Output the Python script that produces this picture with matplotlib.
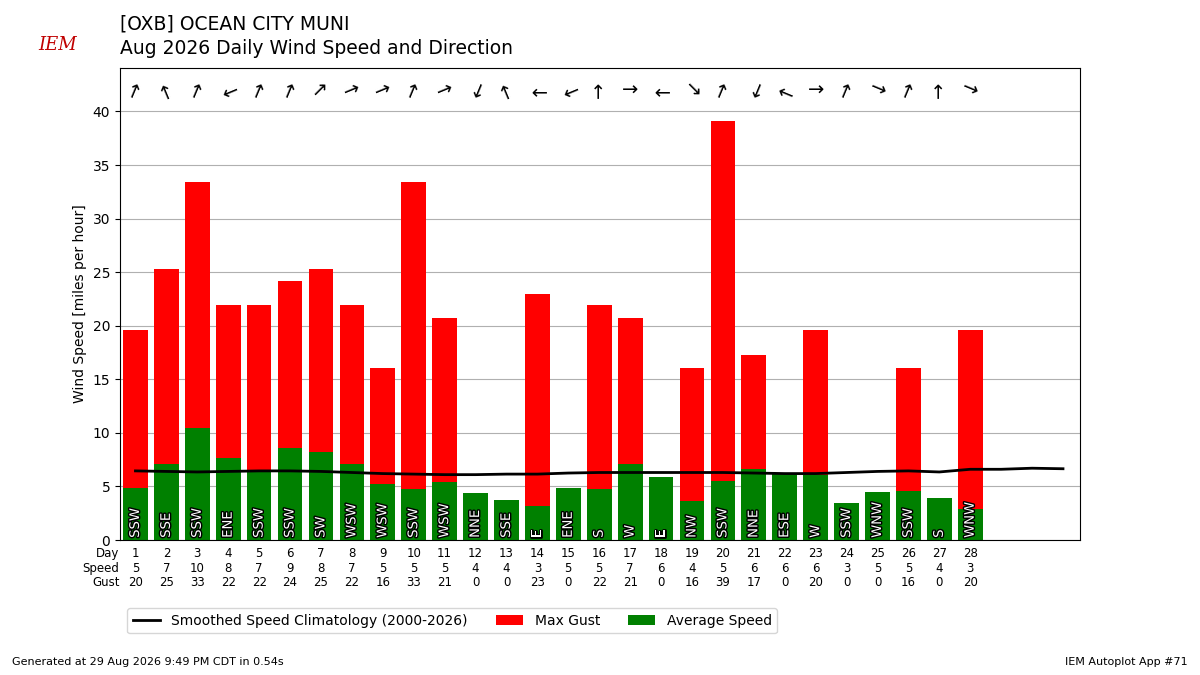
import matplotlib
matplotlib.use("Agg")
import matplotlib.pyplot as plt
import matplotlib.patheffects as pe
import numpy as np

days = list(range(1, 29))
avg = [4.9, 7.1, 10.5, 7.7, 6.4, 8.6, 8.2, 7.1, 5.2, 4.8, 5.4, 4.4, 3.7, 3.2, 4.9, 4.8, 7.1, 5.9, 3.6, 5.5, 6.6, 6.3, 6.1, 3.5, 4.5, 4.6, 3.9, 2.9]
gust = [19.6, 25.3, 33.4, 21.9, 21.9, 24.2, 25.3, 21.9, 16.1, 33.4, 20.7, 0, 0, 23.0, 0, 21.9, 20.7, 0, 16.1, 39.1, 17.3, 0, 19.6, 0, 0, 16.1, 0, 19.6]
spd_lbl = [5, 7, 10, 8, 7, 9, 8, 7, 5, 5, 5, 4, 4, 3, 5, 5, 7, 6, 4, 5, 6, 6, 6, 3, 5, 5, 4, 3]
gust_lbl = [20, 25, 33, 22, 22, 24, 25, 22, 16, 33, 21, 0, 0, 23, 0, 22, 21, 0, 16, 39, 17, 0, 20, 0, 0, 16, 0, 20]
dirs = ["SSW", "SSE", "SSW", "ENE", "SSW", "SSW", "SW", "WSW", "WSW", "SSW", "WSW", "NNE", "SSE", "E", "ENE", "S", "W", "E", "NW", "SSW", "NNE", "ESE", "W", "SSW", "WNW", "SSW", "S", "WNW"]
clim_days = list(range(1, 32))
clim = [6.45, 6.4, 6.35, 6.4, 6.45, 6.45, 6.4, 6.3, 6.2, 6.15, 6.1, 6.1, 6.15, 6.15, 6.25, 6.3, 6.3, 6.3, 6.3, 6.3, 6.25, 6.2, 6.2, 6.3, 6.4, 6.45, 6.35, 6.6, 6.6, 6.7, 6.65]

compass = ["N", "NNE", "NE", "ENE", "E", "ESE", "SE", "SSE", "S", "SSW", "SW", "WSW", "W", "WNW", "NW", "NNW"]

fig = plt.figure(figsize=(12, 6.75), dpi=100)
ax = fig.add_axes([0.1, 0.2, 0.8, 0.7])
ax.bar(days, gust, width=0.8, color="red", label="Max Gust", zorder=2)
ax.bar(days, avg, width=0.8, color="green", label="Average Speed", zorder=2)
ax.plot(clim_days, clim, color="black", lw=2, label="Smoothed Speed Climatology (2000-2026)", zorder=3)
ax.set_xlim(0.5, 31.55)
ax.set_ylim(0, 44.1)
ax.set_yticks(range(0, 41, 5))
ax.grid(axis="y", color="#b0b0b0", zorder=0)
ax.set_xticks([])
ax.set_ylabel("Wind Speed [miles per hour]")

for d, s, g, dr in zip(days, spd_lbl, gust_lbl, dirs):
    ax.text(d, 0.2, dr, rotation=90, ha="center", va="bottom", color="white", fontsize=9.5,
            path_effects=[pe.withStroke(linewidth=2, foreground="black")], zorder=4)
    ang = compass.index(dr) * 22.5
    toward = ang + 180
    rot = 90 - toward
    ax.text(d, 42, "→", rotation=rot, rotation_mode="anchor", ha="center", va="center", fontsize=14, zorder=4)
    for row, v in enumerate([d, s, g]):
        ax.text(d, -1.3 - row * 1.32, str(v), ha="center", va="center", fontsize=8.5)
for row, t in enumerate(["Day", "Speed", "Gust"]):
    ax.text(0.48, -1.3 - row * 1.32, t, ha="right", va="center", fontsize=8.5)

fig.text(0.1, 0.965, "[OXB] OCEAN CITY MUNI", fontsize=13.5, va="center")
fig.text(0.1, 0.928, "Aug 2026 Daily Wind Speed and Direction", fontsize=13.5, va="center")
fig.text(0.032, 0.933, "IEM", color="#c00000", fontsize=13, style="italic", va="center", fontfamily="DejaVu Serif")
ax.legend(loc="upper left", bbox_to_anchor=(0.0, -0.13), ncol=3, fontsize=10)
fig.text(0.01, 0.015, "Generated at 29 Aug 2026 9:49 PM CDT in 0.54s", fontsize=8)
fig.text(0.99, 0.015, "IEM Autoplot App #71", fontsize=8, ha="right")
fig.savefig("out.png")
